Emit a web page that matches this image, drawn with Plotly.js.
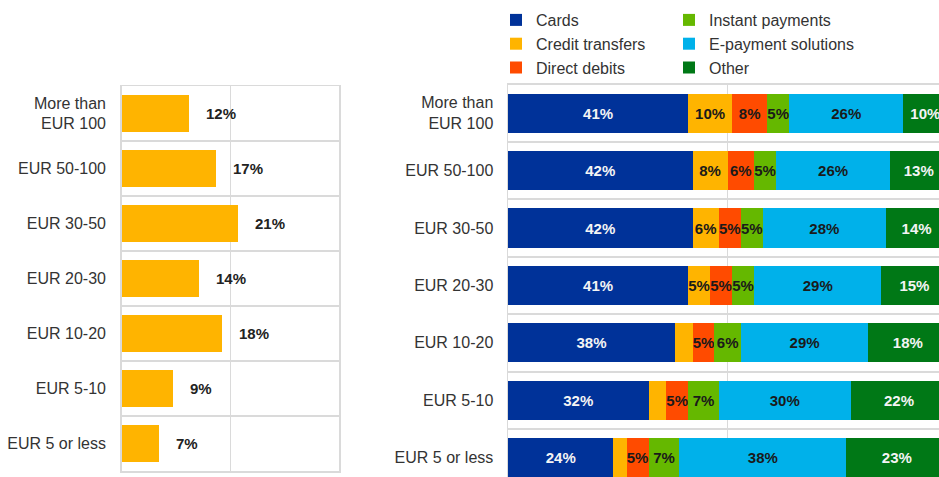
<!DOCTYPE html>
<html>
<head>
<meta charset="utf-8">
<script src="https://cdn.plot.ly/plotly-3.0.1.min.js"></script>
<style>
html, body { margin: 0; padding: 0; background: #ffffff; }
#chart { width: 939px; height: 477px; }
</style>
</head>
<body>
<div id="chart"></div>
<script>
// ---- data ----
const categories = ["More than<br>EUR 100", "EUR 50-100", "EUR 30-50", "EUR 20-30", "EUR 10-20", "EUR 5-10", "EUR 5 or less"];

// left panel: share of payments by value band
const shareValues = [12.3, 17.4, 21.4, 14.2, 18.4, 9.4, 6.9];
const shareLabels = ["12%", "17%", "21%", "14%", "18%", "9%", "7%"];

// right panel: payment instrument mix by value band (%)
const seriesNames = ["Cards", "Credit transfers", "Direct debits", "Instant payments", "E-payment solutions", "Other"];
const cards    = [41, 42, 42, 41, 38, 32, 24];
const credit   = [10,  8,  6,  5,  4,  4,  3];
const direct   = [ 8,  6,  5,  5,  5,  5,  5];
const instant  = [ 5,  5,  5,  5,  6,  7,  7];
const epay     = [26, 26, 28, 29, 29, 30, 38];
const other    = [10, 13, 14, 15, 18, 22, 23];
const seriesValues = [cards, credit, direct, instant, epay, other];

// ---- styling ----
const seriesColors = ["#003299", "#FFB400", "#FF4B00", "#65B800", "#00B1EA", "#007816"];
const seriesTextColors = ["#f4f4f4", "#1a1a1a", "#1a1a1a", "#1a1a1a", "#1a1a1a", "#f4f4f4"];
const FONT = "'Liberation Sans', Arial, Helvetica, sans-serif";
const GRID = "#dadada";
const W = 939, H = 477;
const px = x => x / W;
const py = y => (H - y) / H;

const traces = [];
traces.push({
  type: "bar", orientation: "h",
  x: shareValues, y: categories,
  xaxis: "x", yaxis: "y",
  marker: { color: "#FFB400", line: { width: 0 } },
  showlegend: false, hoverinfo: "skip"
});

seriesNames.forEach((name, i) => {
  const vals = seriesValues[i];
  traces.push({
    type: "bar", orientation: "h",
    name: name,
    x: vals, y: categories,
    xaxis: "x2", yaxis: "y2",
    marker: { color: seriesColors[i], line: { width: 0 } },
    text: vals.map(v => (v >= 5 ? v + "%" : "")),
    textposition: "inside",
    insidetextanchor: "middle",
    constraintext: "none",
    textangle: 0,
    insidetextfont: { family: FONT, size: 15, color: seriesTextColors[i], weight: "bold" },
    legend: i < 3 ? "legend" : "legend2",
    hoverinfo: "skip"
  });
});

const annotations = shareValues.map((v, i) => ({
  x: v, y: categories[i], xref: "x", yref: "y",
  text: shareLabels[i], showarrow: false,
  xanchor: "left", xshift: 15,
  font: { family: FONT, size: 15, color: "#222222", weight: "bold" }
}));

const legendBase = {
  orientation: "v", xanchor: "left", yanchor: "top",
  y: py(3),
  font: { family: FONT, size: 16, color: "#333333" },
  bgcolor: "rgba(0,0,0,0)", borderwidth: 0,
  traceorder: "normal", itemclick: false, itemdoubleclick: false
};

const layout = {
  width: W, height: H,
  margin: { l: 0, r: 0, t: 0, b: 0, pad: 0 },
  paper_bgcolor: "#ffffff", plot_bgcolor: "#ffffff",
  font: { family: FONT, size: 16, color: "#333333" },
  barmode: "stack",
  bargap: 0.32,
  showlegend: true,
  legend: Object.assign({}, legendBase, { x: px(496) }),
  legend2: Object.assign({}, legendBase, { x: px(669) }),
  xaxis: {
    domain: [px(121.7), px(339)], anchor: "y",
    range: [0, 40], tick0: 0, dtick: 20,
    showticklabels: false, ticks: "",
    showgrid: true, gridcolor: GRID, gridwidth: 1.5,
    zeroline: false,
    showline: true, mirror: true, linecolor: GRID, linewidth: 1.5,
    fixedrange: true
  },
  yaxis: {
    domain: [py(471), py(86)], anchor: "x",
    type: "category", categoryorder: "array", categoryarray: categories,
    range: [6.5, -0.5],
    tickson: "boundaries", ticks: "",
    ticklabelstandoff: 11,
    tickfont: { family: FONT, size: 16, color: "#333333" },
    showgrid: true, gridcolor: GRID, gridwidth: 2,
    zeroline: false,
    showline: true, mirror: true, linecolor: GRID, linewidth: 1.5,
    fixedrange: true
  },
  xaxis2: {
    domain: [px(508), 1], anchor: "y2", side: "top",
    range: [0, 98.1], tick0: 0, dtick: 50,
    showticklabels: false, ticks: "",
    showgrid: true, gridcolor: GRID, gridwidth: 1.5,
    zeroline: false,
    showline: true, linecolor: GRID, linewidth: 1.5,
    fixedrange: true
  },
  yaxis2: {
    domain: [0, py(84.5)], anchor: "x2",
    type: "category", categoryorder: "array", categoryarray: categories,
    range: [6.338, -0.5],
    tickson: "boundaries", ticks: "",
    ticklabelstandoff: 10,
    tickfont: { family: FONT, size: 16, color: "#333333" },
    showgrid: true, gridcolor: GRID, gridwidth: 2,
    zeroline: false,
    showline: true, linecolor: GRID, linewidth: 1.5,
    fixedrange: true
  },
  annotations: annotations
};

Plotly.newPlot("chart", traces, layout, { displayModeBar: false, staticPlot: true });
</script>
</body>
</html>
